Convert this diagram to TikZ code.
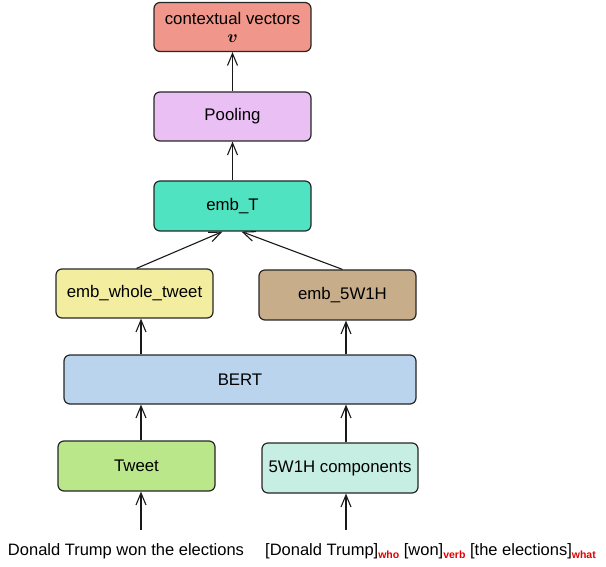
\documentclass[tikz,border=0pt]{standalone}
\usepackage{amsmath}
\usepackage{bm}
\usepackage{fontspec}
\setmainfont{Liberation Sans}
\usetikzlibrary{arrows.meta,calc}
\definecolor{ctxfill}{HTML}{F0968A}
\definecolor{poolfill}{HTML}{EABFF4}
\definecolor{embtfill}{HTML}{50E3C2}
\definecolor{wholefill}{HTML}{F3EE9F}
\definecolor{fivefill}{HTML}{C8AD8A}
\definecolor{bertfill}{HTML}{BAD4EE}
\definecolor{tweetfill}{HTML}{B9E78A}
\definecolor{compfill}{HTML}{C6EEE3}
\definecolor{tagred}{HTML}{E00000}
\newcommand{\tagsub}[1]{\raisebox{-3pt}{\fontsize{10.5}{12}\selectfont\bfseries\color{tagred}#1}}
\tikzset{
  block/.style={draw=black!85, line width=1.2pt, rounded corners=6pt,
    minimum width=157pt, minimum height=49pt, inner sep=2pt,
    font=\fontsize{16.8}{19}\selectfont, align=center},
  arr/.style={draw=black!90, line width=1.1pt, -{Straight Barb[length=12pt,width=10pt,line width=1.1pt]}},
  caption/.style={font=\fontsize{16.5}{19}\selectfont, inner sep=0pt}
}
\begin{document}
\begin{tikzpicture}[x=1pt,y=-1pt]
\useasboundingbox (0,0) rectangle (606,567);

% stacked blocks
\node[block, fill=ctxfill] (ctx) at (232.5,27) {contextual vectors\\[-1pt]$\bm{v}$};
\node[block, fill=poolfill] (pool) at (232.5,116.5) {Pooling};
\node[block, fill=embtfill, minimum height=50pt] (embT) at (232.5,206) {emb\_T};
\node[block, fill=wholefill] (whole) at (134.5,293.5) {emb\_whole\_tweet};
\node[block, fill=fivefill, minimum height=50pt] (five) at (337.5,295) {\hspace{10pt}emb\_5W1H};
\node[block, fill=bertfill, minimum width=352pt] (bert) at (240,379.5) {BERT};
\node[block, fill=tweetfill, minimum height=50pt] (tweet) at (136.5,466) {Tweet};
\node[block, fill=compfill, minimum width=156pt, minimum height=50pt] (comp) at (340,468) {5W1H components};

% input sentences
\node[caption] (sentL) at (126,551) {Donald Trump won the elections};
\node[caption, anchor=west] (sentR) at (265,551) {[Donald Trump]\tagsub{who} [won]\tagsub{verb} [the elections]\tagsub{what}};

% vertical lanes
\coordinate (laneL) at (141,530);
\coordinate (laneR) at (346,530);

\draw[arr] (laneL) -- (laneL |- tweet.south);
\draw[arr] (laneR) -- (laneR |- comp.south);
\draw[arr] (laneL |- tweet.north) -- (laneL |- bert.south);
\draw[arr] (laneR |- comp.north) -- (laneR |- bert.south);
\draw[arr] (laneL |- bert.north) -- (laneL |- whole.south);
\draw[arr] (laneR |- bert.north) -- (laneR |- five.south);

% merge into emb_T
\draw[arr] ($(whole.north)+(2,0)$) -- ($(embT.south)+(-10,0)$);
\draw[arr] ($(five.north)+(5,0)$) -- ($(embT.south)+(9,0)$);

\draw[arr] (embT.north) -- (pool.south);
\draw[arr] (pool.north) -- (ctx.south);
\end{tikzpicture}
\end{document}
